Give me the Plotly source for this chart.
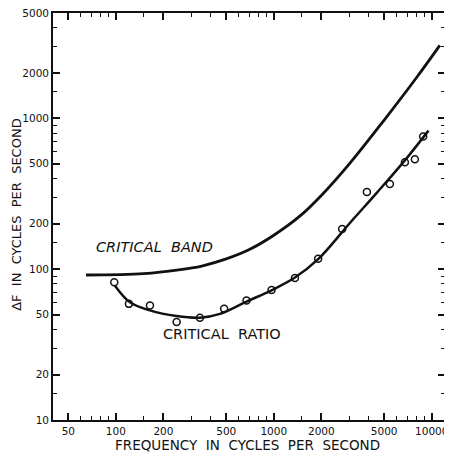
import plotly.graph_objects as go

# Critical band curve (smooth)
band_freq = [64.7, 150, 250, 350, 500, 700, 1000, 1500, 2000, 3000, 5000, 8000, 11250]
band_df = [91.5, 93.5, 99, 105, 117, 135, 168, 230, 308, 497, 975, 1860, 3050]

# Critical ratio curve (smooth)
ratio_freq = [98.7, 122.8, 164.4, 242.5, 340.6, 456, 672, 968, 1361, 1910, 3033, 4500, 6761, 9537]
ratio_df = [77.8, 60.4, 53.3, 48.9, 47.7, 50.6, 61, 72.5, 88, 116.6, 202.6, 322, 527, 830]

# Critical ratio measured points (open circles)
pts_freq = [97.7, 121, 164.4, 242.5, 340.6, 485, 672, 968, 1361, 1910, 2710, 3885, 5433, 6761, 7820, 8826]
pts_df = [81.8, 58.9, 57.5, 44.7, 47.7, 54.6, 62, 72.8, 87.3, 117.5, 185, 325, 367, 512, 536, 758]

x_major = [50, 100, 200, 500, 1000, 2000, 5000, 10000]
x_major_text = ["50", "100", "200", "500", "1000", "2000", "5000", "10000"]
x_minor = [60, 70, 80, 90, 150, 300, 400, 600, 700, 800, 900, 1500, 3000, 4000, 6000, 7000, 8000, 9000]
y_major = [10, 20, 50, 100, 200, 500, 1000, 2000, 5000]
y_major_text = ["10", "20", "50", "100", "200", "500", "1000", "2000", "5000"]
y_minor = [15, 30, 40, 60, 70, 80, 90, 150, 300, 400, 600, 700, 800, 900, 1500, 3000, 4000]

FONT = "DejaVu Sans"
INK = "#111111"

fig = go.Figure()
fig.add_trace(go.Scatter(x=band_freq, y=band_df, mode="lines", line=dict(color=INK, width=2.8, shape="spline", smoothing=1.0),
                         hoverinfo="skip", showlegend=False))
fig.add_trace(go.Scatter(x=ratio_freq, y=ratio_df, mode="lines", line=dict(color=INK, width=2.5, shape="spline", smoothing=1.0),
                         hoverinfo="skip", showlegend=False))
fig.add_trace(go.Scatter(x=pts_freq, y=pts_df, mode="markers",
                         marker=dict(symbol="circle-open", size=7, color=INK, line=dict(width=1.5, color=INK)),
                         showlegend=False))

fig.add_annotation(x=2.2477, y=2.149, xref="x", yref="y", text="<i>CRITICAL  BAND</i>", showarrow=False,
                   font=dict(family=FONT, size=14.5, color=INK))
fig.add_annotation(x=2.672, y=1.572, xref="x", yref="y", text="CRITICAL  RATIO", showarrow=False,
                   font=dict(family=FONT, size=14.5, color=INK))

# Axis titles as annotations (paper coordinates)
fig.add_annotation(x=0.497, y=-0.0614, xref="paper", yref="paper", yanchor="middle", xanchor="center",
                   text="FREQUENCY  IN  CYCLES  PER  SECOND", showarrow=False,
                   font=dict(family=FONT, size=13.5, color=INK))
fig.add_annotation(x=-0.092, y=0.504, xref="paper", yref="paper", xanchor="center", yanchor="middle", textangle=-90,
                   text="ΔF  IN  CYCLES  PER  SECOND", showarrow=False, borderpad=0,
                   font=dict(family=FONT, size=13, color=INK))

axis_common = dict(
    type="log", showgrid=False, zeroline=False, showline=True, linecolor=INK, linewidth=1.8,
    mirror="allticks", ticks="inside", ticklen=7, tickwidth=1.5, tickcolor=INK, automargin=False,
    ticklabeloverflow="allow", tickfont=dict(family=FONT, size=10.5, color=INK),
)
fig.update_xaxes(**axis_common, range=[1.602, 4.084], tickmode="array", tickvals=x_major, ticktext=x_major_text,
                 minor=dict(tickmode="array", tickvals=x_minor, ticks="inside", ticklen=4, tickwidth=1.3, tickcolor=INK))
fig.update_yaxes(**axis_common, range=[1.0, 3.699], tickmode="array", tickvals=y_major, ticktext=y_major_text,
                 minor=dict(tickmode="array", tickvals=y_minor, ticks="inside", ticklen=4, tickwidth=1.3, tickcolor=INK))

# page body has an 8px margin; the figure is sized/placed so the plot area lands where the reference has it
fig.update_layout(width=444, height=449, margin=dict(l=45, r=7, t=5, b=37),
                  paper_bgcolor="white", plot_bgcolor="white", font=dict(family=FONT, color=INK))
fig.write_html("out.html")
